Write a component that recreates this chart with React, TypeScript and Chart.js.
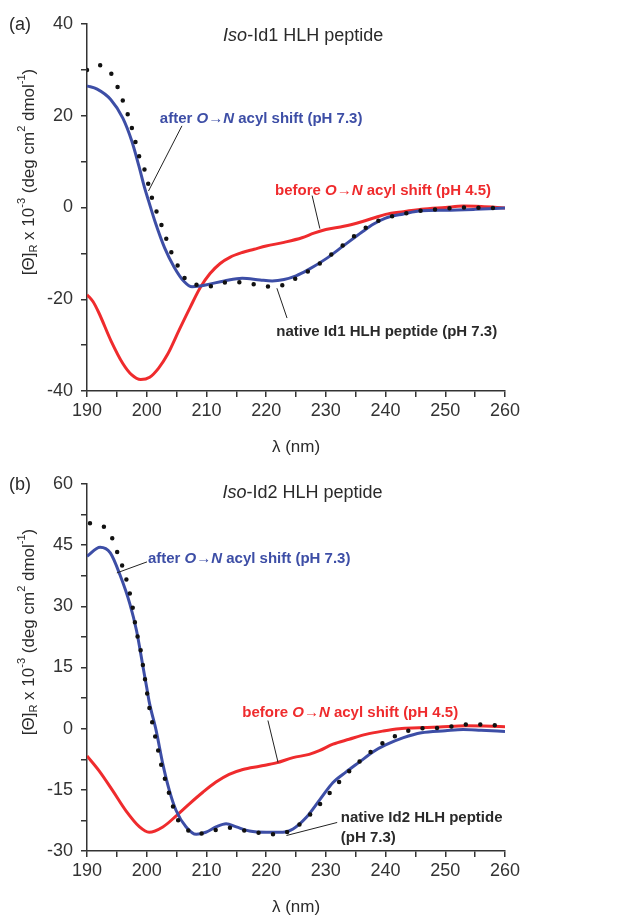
import React, { useEffect, useRef } from 'react';
import { Chart, registerables } from 'chart.js';

Chart.register(...registerables);

// ---------- Panel (a): Iso-Id1 HLH peptide ----------
const aBeforeNm = [190, 191, 192, 194, 196, 197.5, 199, 200.5, 202, 203.5, 205.5, 207.3, 209, 210.6, 212.3, 214, 216, 218, 220, 223, 226, 228, 230, 233, 236, 238, 240, 243, 246, 250, 253, 256, 260];
const aBeforeVal = [-19, -20.5, -23, -29, -34, -36.5, -37.5, -37, -35, -32, -26.5, -21.7, -17.4, -14.4, -12.2, -10.8, -9.8, -9.1, -8.4, -7.6, -6.6, -5.6, -4.8, -4.1, -3.1, -2.3, -1.5, -0.9, -0.4, 0, 0.3, 0.2, -0.1];

const aAfterNm = [190, 191.7, 194, 196, 197.5, 198.7, 199.6, 200.3, 201.5, 203, 204.6, 206.3, 207.6, 209, 210.5, 213, 216, 219, 221, 223, 225, 227, 230, 233, 236, 238, 240, 243, 246, 250, 255, 260];
const aAfterVal = [26.5, 25.8, 23.5, 19.5, 14.5, 9, 4.5, 1.5, -3.5, -8.8, -13, -16.2, -17.3, -17.1, -16.7, -16, -15.4, -15.8, -16, -15.7, -14.9, -13.6, -11.2, -8.3, -5.4, -3.6, -2.3, -1.4, -0.7, -0.6, -0.4, -0.1];

const aNativeNm = [190, 191.7, 194.2, 195.7, 196.8, 197.8, 198.6, 199.8, 200.6, 201.6, 202.8, 204, 205.5, 206.9, 208.7, 210.4, 213.4, 216, 218.2, 220, 221.8, 224.3, 226.8, 229.6, 232.4, 235.2, 237.7, 240.2, 243, 246, 248.6, 251.6, 254, 257, 260];
const aNativeVal = [30, 31.1, 28.9, 24.3, 20.4, 16, 11.7, 7.6, 3.3, -0.7, -5, -9.4, -13.4, -16.3, -16.9, -17.2, -16.3, -16.3, -16.8, -17.2, -17.2, -15.9, -14.1, -11.6, -8.7, -5.8, -3.6, -2.2, -1.4, -0.7, -0.4, -0.1, 0, -0.1, 0];

// ---------- Panel (b): Iso-Id2 HLH peptide ----------
const bBeforeNm = [190, 192, 194.3, 196.5, 198.8, 200.4, 202.7, 205, 207.1, 209.4, 211.6, 213.8, 216.1, 218.9, 221.7, 224.5, 227.2, 228.9, 231.2, 233.9, 236.7, 239.5, 242.3, 245.6, 249, 253.5, 260];
const bBeforeVal = [-6.7, -10.3, -15.2, -20.1, -24.1, -25.4, -24.1, -21.3, -18.5, -15.6, -13.1, -11.2, -10, -9.2, -8.4, -7.1, -6.3, -5.4, -3.8, -2.6, -1.4, -0.6, 0, 0.2, 0.4, 0.7, 0.5];

const bAfterNm = [190, 192.2, 193.9, 195.5, 197.2, 198.3, 199.4, 200, 200.4, 201.6, 202.7, 203.8, 204.9, 206.6, 208.3, 209.9, 211.6, 213.3, 215, 217.2, 220, 222.8, 224.5, 226.7, 229, 231.2, 233.4, 235.6, 238, 240, 243, 246, 250, 253, 256, 260];
const bAfterVal = [42.3, 44.5, 43.1, 37.8, 30.5, 24, 15, 10.1, 6.7, -0.6, -8.7, -15.2, -20, -24.1, -25.9, -25.4, -24.1, -23.3, -24.1, -25.1, -25.4, -25.4, -24.6, -21.8, -17.4, -13.2, -10.6, -8.2, -5.6, -4, -2.2, -1, -0.5, -0.2, -0.4, -0.7];

const bNativeNm = [190.5, 191, 193.7, 195, 196.2, 197, 197.7, 198.2, 198.9, 199.4, 199.9, 200.4, 201, 201.7, 202.4, 203.3, 204.1, 205, 206.3, 208.3, 210.8, 213.6, 216.4, 219.2, 221.7, 224.5, 227.2, 229.8, 232.5, 235.3, 238.1, 240.6, 243.4, 246.2, 249, 251.8, 254.3, 257.1, 260];
const bNativeVal = [50.4, 50.2, 48.3, 43.5, 38.6, 34.2, 29.3, 24.4, 19.9, 15.2, 10.3, 5.5, 1, -3.8, -8.7, -13.6, -17.6, -21.7, -24.1, -25.9, -25.1, -24.3, -25, -25.6, -25.9, -24.6, -21.3, -17.2, -12.6, -8.5, -5, -2.6, -0.7, 0.1, 0.2, 0.7, 1.1, 0.9, 0.7];

// ---------- Axes ----------
const xMin = 190;
const xMax = 260;
const xStep = 5;
const xLabelStep = 10;
const aYMin = -40;
const aYMax = 40;
const aYStep = 10;
const aYLabelStep = 20;
const bYMin = -30;
const bYMax = 60;
const bYStep = 7.5;
const bYLabelStep = 15;

// ---------- Styles ----------
const RED = '#ef2b2d';
const BLUE = '#3d4ea6';
const DOT = '#111111';
const AXIS = '#333333';
const TEXT = '#2a2a2a';
const FONT = '"Liberation Sans", Arial, Helvetica, sans-serif';

type Seg = { t: string; it?: boolean };
type Note = {
  lines: Seg[][];
  x: number;
  y: number;
  color: string;
  from: [number, number];
  to: [number, number];
};

const arrowAfter: Seg[] = [{ t: 'after ' }, { t: 'O', it: true }, { t: '→' }, { t: 'N', it: true }, { t: ' acyl shift (pH 7.3)' }];
const arrowBefore: Seg[] = [{ t: 'before ' }, { t: 'O', it: true }, { t: '→' }, { t: 'N', it: true }, { t: ' acyl shift (pH 4.5)' }];

const aNotes: Note[] = [
  { lines: [arrowAfter], x: 202.2, y: 19.3, color: BLUE, from: [205.9, 17.8], to: [200.3, 3.6] },
  { lines: [arrowBefore], x: 221.5, y: 3.7, color: RED, from: [227.7, 2.6], to: [229, -4.6] },
  { lines: [[{ t: 'native Id1 HLH peptide (pH 7.3)' }]], x: 221.7, y: -27.2, color: TEXT, from: [223.5, -24.1], to: [221.8, -17.6] },
];
const bNotes: Note[] = [
  { lines: [arrowAfter], x: 200.2, y: 41.6, color: BLUE, from: [200.05, 40.9], to: [195.0, 38.2] },
  { lines: [arrowBefore], x: 216.0, y: 3.9, color: RED, from: [220.3, 2.0], to: [222.0, -8.3] },
  { lines: [[{ t: 'native Id2 HLH peptide' }], [{ t: '(pH 7.3)' }]], x: 232.5, y: -21.8, color: TEXT, from: [231.9, -23.0], to: [223.4, -26.2] },
];

function pts(xs: number[], ys: number[]) {
  return xs.map((x, i) => ({ x, y: ys[i] }));
}

function segWidth(ctx: CanvasRenderingContext2D, segs: Seg[], size: number, bold: boolean) {
  let w = 0;
  for (const s of segs) {
    ctx.font = `${s.it ? 'italic ' : ''}${bold ? 'bold ' : ''}${size}px ${FONT}`;
    w += ctx.measureText(s.t).width;
  }
  return w;
}

function drawSegs(ctx: CanvasRenderingContext2D, segs: Seg[], x: number, y: number, size: number, bold: boolean) {
  let cx = x;
  for (const s of segs) {
    ctx.font = `${s.it ? 'italic ' : ''}${bold ? 'bold ' : ''}${size}px ${FONT}`;
    ctx.fillText(s.t, cx, y);
    cx += ctx.measureText(s.t).width;
  }
}

function drawYTitle(ctx: CanvasRenderingContext2D, cx: number, cy: number) {
  const big = 17;
  const small = 11;
  const parts: { t: string; size: number; dy: number }[] = [
    { t: '[Θ]', size: big, dy: 0 },
    { t: 'R', size: small, dy: 5 },
    { t: ' x 10', size: big, dy: 0 },
    { t: '-3', size: small, dy: -7 },
    { t: ' (deg cm', size: big, dy: 0 },
    { t: '2', size: small, dy: -7 },
    { t: ' dmol', size: big, dy: 0 },
    { t: '-1', size: small, dy: -7 },
    { t: ')', size: big, dy: 0 },
  ];
  ctx.save();
  ctx.translate(cx, cy);
  ctx.rotate(-Math.PI / 2);
  ctx.fillStyle = TEXT;
  ctx.textBaseline = 'middle';
  ctx.textAlign = 'left';
  let total = 0;
  for (const p of parts) {
    ctx.font = `${p.size}px ${FONT}`;
    total += ctx.measureText(p.t).width;
  }
  let x = -total / 2;
  for (const p of parts) {
    ctx.font = `${p.size}px ${FONT}`;
    ctx.fillText(p.t, x, p.dy);
    x += ctx.measureText(p.t).width;
  }
  ctx.restore();
}

type Panel = {
  tag: string;
  title: Seg[];
  titleAt: [number, number];
  yMin: number;
  yMax: number;
  yStep: number;
  yLabelStep: number;
  before: { x: number; y: number }[];
  after: { x: number; y: number }[];
  native: { x: number; y: number }[];
  notes: Note[];
  height: number;
};

function buildChart(canvas: HTMLCanvasElement, p: Panel) {
  const annot = {
    id: 'annot',
    afterDraw(chart: any) {
      const ctx: CanvasRenderingContext2D = chart.ctx;
      const xs = chart.scales.x;
      const ys = chart.scales.y;
      const area = chart.chartArea;
      ctx.save();
      ctx.fillStyle = TEXT;
      ctx.textBaseline = 'middle';
      ctx.textAlign = 'left';
      ctx.font = `18px ${FONT}`;
      ctx.fillText(p.tag, 9, 25);
      const tw = segWidth(ctx, p.title, 18, false);
      drawSegs(ctx, p.title, xs.getPixelForValue(p.titleAt[0]) - tw / 2, ys.getPixelForValue(p.titleAt[1]), 18, false);
      ctx.font = `17px ${FONT}`;
      ctx.textAlign = 'center';
      ctx.fillText('λ (nm)', (area.left + area.right) / 2, 447);
      ctx.textAlign = 'left';
      drawYTitle(ctx, 29, 172);
      for (const n of p.notes) {
        ctx.strokeStyle = '#222';
        ctx.lineWidth = 1;
        ctx.beginPath();
        ctx.moveTo(xs.getPixelForValue(n.from[0]), ys.getPixelForValue(n.from[1]));
        ctx.lineTo(xs.getPixelForValue(n.to[0]), ys.getPixelForValue(n.to[1]));
        ctx.stroke();
        ctx.fillStyle = n.color;
        const x0 = xs.getPixelForValue(n.x);
        let y0 = ys.getPixelForValue(n.y);
        for (const line of n.lines) {
          drawSegs(ctx, line, x0, y0, 15, true);
          y0 += 20;
        }
      }
      ctx.restore();
    },
  };

  const isMult = (v: number, step: number) => Math.abs(v / step - Math.round(v / step)) < 1e-6;

  return new Chart(canvas, {
    type: 'line',
    data: {
      datasets: [
        {
          label: 'native',
          data: p.native,
          borderColor: DOT,
          borderWidth: 4.5,
          borderDash: [0, 14.5],
          borderCapStyle: 'round',
          pointRadius: 0,
          cubicInterpolationMode: 'monotone',
          fill: false,
        },
        {
          label: 'after',
          data: p.after,
          borderColor: BLUE,
          borderWidth: 3,
          pointRadius: 0,
          cubicInterpolationMode: 'monotone',
          fill: false,
        },
        {
          label: 'before',
          data: p.before,
          borderColor: RED,
          borderWidth: 3,
          pointRadius: 0,
          cubicInterpolationMode: 'monotone',
          fill: false,
        },
      ],
    },
    options: {
      responsive: false,
      animation: false,
      devicePixelRatio: 1,
      layout: { padding: { left: 0, right: 115, top: 24, bottom: 0 } },
      plugins: { legend: { display: false }, tooltip: { enabled: false }, title: { display: false } },
      scales: {
        x: {
          type: 'linear',
          min: xMin,
          max: xMax,
          afterFit: (s: any) => {
            s.height = p.height - 391;
          },
          ticks: {
            stepSize: xStep,
            autoSkip: false,
            maxRotation: 0,
            padding: 3,
            color: AXIS,
            font: { family: FONT, size: 18 },
            callback: (v: any) => (isMult(Number(v), xLabelStep) ? String(v) : ''),
          },
          grid: { drawOnChartArea: false, drawTicks: true, tickLength: 6, color: AXIS, lineWidth: 1.5 },
          border: { display: true, color: AXIS, width: 1.5 },
        },
        y: {
          type: 'linear',
          min: p.yMin,
          max: p.yMax,
          afterFit: (s: any) => {
            s.width = 87;
          },
          ticks: {
            stepSize: p.yStep,
            autoSkip: false,
            padding: 8,
            color: AXIS,
            font: { family: FONT, size: 18 },
            callback: (v: any) => (isMult(Number(v), p.yLabelStep) ? String(Math.round(Number(v))) : ''),
          },
          grid: { drawOnChartArea: false, drawTicks: true, tickLength: 6, color: AXIS, lineWidth: 1.5 },
          border: { display: true, color: AXIS, width: 1.5 },
        },
      },
    },
    plugins: [annot],
  } as any);
}

export default function App() {
  const refA = useRef<HTMLCanvasElement>(null);
  const refB = useRef<HTMLCanvasElement>(null);

  useEffect(() => {
    const a = buildChart(refA.current!, {
      tag: '(a)',
      title: [{ t: 'Iso', it: true }, { t: '-Id1 HLH peptide' }],
      titleAt: [226.2, 37.4],
      yMin: aYMin,
      yMax: aYMax,
      yStep: aYStep,
      yLabelStep: aYLabelStep,
      before: pts(aBeforeNm, aBeforeVal),
      after: pts(aAfterNm, aAfterVal),
      native: pts(aNativeNm, aNativeVal),
      notes: aNotes,
      height: 460,
    });
    const b = buildChart(refB.current!, {
      tag: '(b)',
      title: [{ t: 'Iso', it: true }, { t: '-Id2 HLH peptide' }],
      titleAt: [226.1, 57.7],
      yMin: bYMin,
      yMax: bYMax,
      yStep: bYStep,
      yLabelStep: bYLabelStep,
      before: pts(bBeforeNm, bBeforeVal),
      after: pts(bAfterNm, bAfterVal),
      native: pts(bNativeNm, bNativeVal),
      notes: bNotes,
      height: 459,
    });
    return () => {
      a.destroy();
      b.destroy();
    };
  }, []);

  return (
    <div style={{ position: 'absolute', left: 0, top: 0, width: 620, height: 919, background: '#fff', overflow: 'hidden' }}>
      <canvas ref={refA} width={620} height={460} style={{ position: 'absolute', left: 0, top: 0, width: 620, height: 460 }} />
      <canvas ref={refB} width={620} height={459} style={{ position: 'absolute', left: 0, top: 460, width: 620, height: 459 }} />
    </div>
  );
}
